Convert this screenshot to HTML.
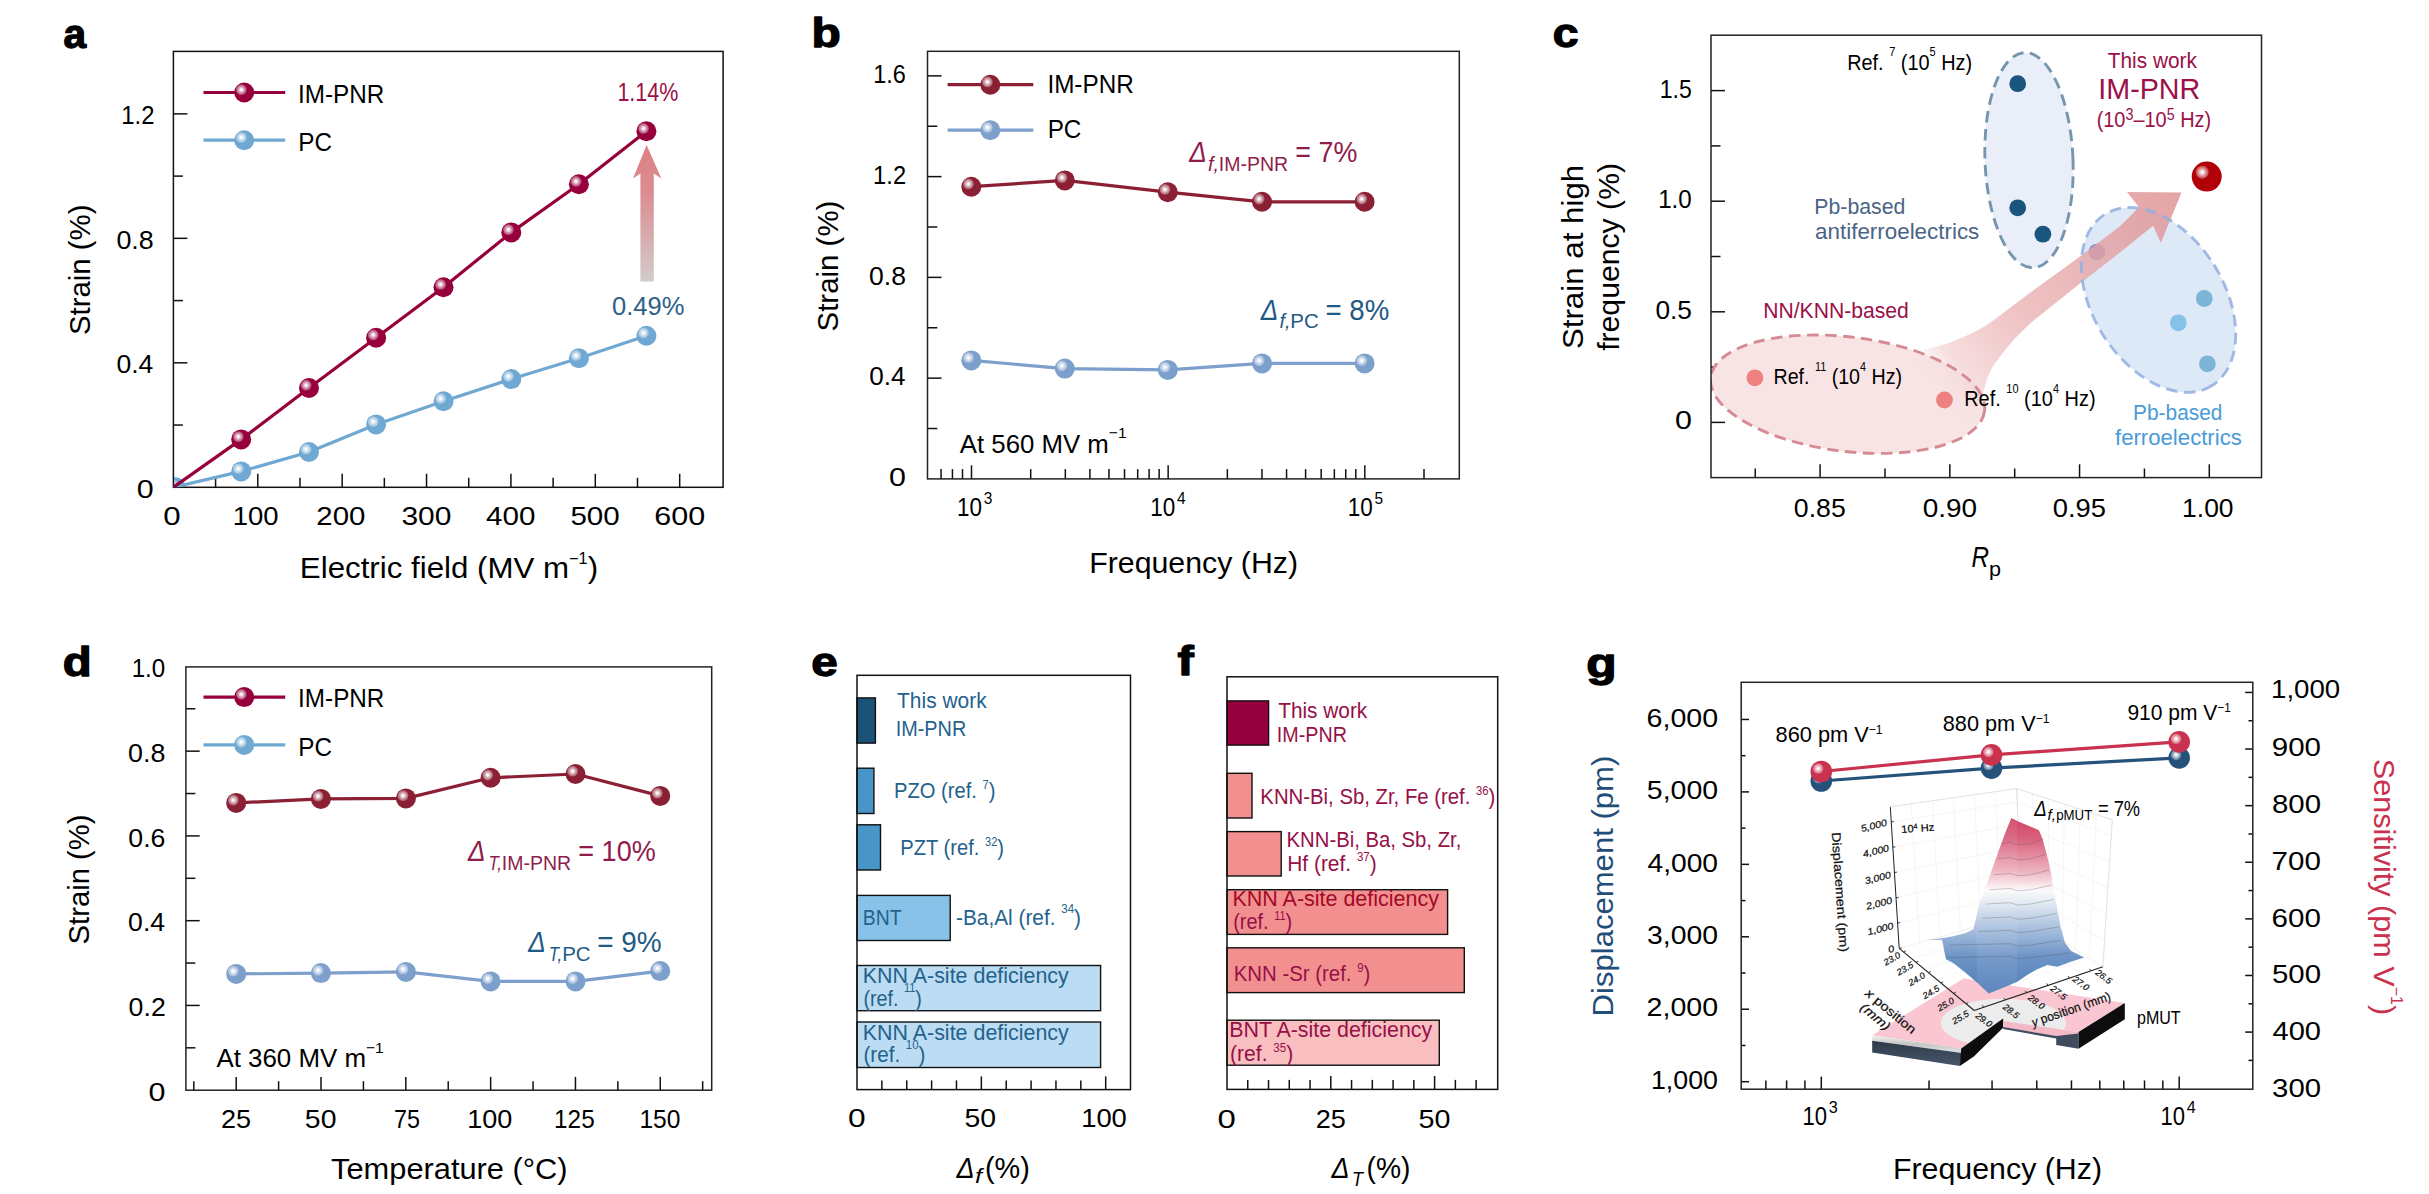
<!DOCTYPE html>
<html><head><meta charset="utf-8"><title>Figure</title>
<style>html,body{margin:0;padding:0;background:#fff;overflow:hidden}svg{display:block}text{font-family:'Liberation Sans', 'DejaVu Sans', sans-serif}</style></head>
<body>
<svg width="2429" height="1194" viewBox="0 0 2429 1194">
<defs>
<radialGradient id="hl"><stop offset="0" stop-color="#fff" stop-opacity="1"/><stop offset="0.18" stop-color="#fff" stop-opacity="0.95"/><stop offset="0.55" stop-color="#fff" stop-opacity="0.6"/><stop offset="1" stop-color="#fff" stop-opacity="0.25"/></radialGradient>
<linearGradient id="arra" x1="0" y1="0" x2="0" y2="1"><stop offset="0" stop-color="#dc8086"/><stop offset="0.35" stop-color="#db8d92"/><stop offset="1" stop-color="#d3cbcb"/></linearGradient>
<linearGradient id="arrc" gradientUnits="userSpaceOnUse" x1="1905" y1="410" x2="2175" y2="195"><stop offset="0.1" stop-color="#f8e4e5" stop-opacity="0"/><stop offset="0.2" stop-color="#f5d8d9" stop-opacity="0.85"/><stop offset="0.45" stop-color="#eab0b2" stop-opacity="0.78"/><stop offset="1" stop-color="#df9496" stop-opacity="0.85"/></linearGradient>
<linearGradient id="gstrip" x1="0" y1="0" x2="0" y2="1"><stop offset="0" stop-color="#f4f4f4"/><stop offset="0.5" stop-color="#c4c4c4"/><stop offset="1" stop-color="#e4e4e4"/></linearGradient>
<linearGradient id="gslate" x1="0" y1="0" x2="0" y2="1"><stop offset="0" stop-color="#2e3a48"/><stop offset="1" stop-color="#46566a"/></linearGradient>
<linearGradient id="gsurf" gradientUnits="userSpaceOnUse" x1="0" y1="818" x2="0" y2="996"><stop offset="0" stop-color="#cf4565"/><stop offset="0.12" stop-color="#d8627e"/><stop offset="0.3" stop-color="#eeb4c0"/><stop offset="0.405" stop-color="#fdfafb"/><stop offset="0.47" stop-color="#e4ebf4"/><stop offset="0.62" stop-color="#a9c0de"/><stop offset="0.78" stop-color="#6d94c6"/><stop offset="1" stop-color="#4f7cb8"/></linearGradient>
</defs>
<g id="pa">
<line x1="215.59" y1="487.3" x2="215.59" y2="477.8" stroke="#111" stroke-width="1.5" />
<line x1="257.78" y1="487.3" x2="257.78" y2="473.8" stroke="#111" stroke-width="1.5" />
<line x1="299.97" y1="487.3" x2="299.97" y2="477.8" stroke="#111" stroke-width="1.5" />
<line x1="342.16" y1="487.3" x2="342.16" y2="473.8" stroke="#111" stroke-width="1.5" />
<line x1="384.35" y1="487.3" x2="384.35" y2="477.8" stroke="#111" stroke-width="1.5" />
<line x1="426.54" y1="487.3" x2="426.54" y2="473.8" stroke="#111" stroke-width="1.5" />
<line x1="468.73" y1="487.3" x2="468.73" y2="477.8" stroke="#111" stroke-width="1.5" />
<line x1="510.92" y1="487.3" x2="510.92" y2="473.8" stroke="#111" stroke-width="1.5" />
<line x1="553.11" y1="487.3" x2="553.11" y2="477.8" stroke="#111" stroke-width="1.5" />
<line x1="595.3" y1="487.3" x2="595.3" y2="473.8" stroke="#111" stroke-width="1.5" />
<line x1="637.49" y1="487.3" x2="637.49" y2="477.8" stroke="#111" stroke-width="1.5" />
<line x1="679.68" y1="487.3" x2="679.68" y2="473.8" stroke="#111" stroke-width="1.5" />
<line x1="173.4" y1="425.06" x2="182.9" y2="425.06" stroke="#111" stroke-width="1.5" />
<line x1="173.4" y1="362.82" x2="187.4" y2="362.82" stroke="#111" stroke-width="1.5" />
<line x1="173.4" y1="300.58" x2="182.9" y2="300.58" stroke="#111" stroke-width="1.5" />
<line x1="173.4" y1="238.34" x2="187.4" y2="238.34" stroke="#111" stroke-width="1.5" />
<line x1="173.4" y1="176.1" x2="182.9" y2="176.1" stroke="#111" stroke-width="1.5" />
<line x1="173.4" y1="113.86" x2="187.4" y2="113.86" stroke="#111" stroke-width="1.5" />
<clipPath id="clipa"><rect x="173.4" y="51.4" width="549.7" height="435.9"/></clipPath>
<g clip-path="url(#clipa)">
<circle cx="175.5" cy="487.3" r="10" fill="#6fa8d2"/>
<circle cx="172.6" cy="484.5" r="5.4" fill="url(#hl)"/>
</g>
<rect x="173.4" y="51.4" width="549.7" height="435.9" fill="none" stroke="#111" stroke-width="1.5" />
<g clip-path="url(#clipa)">
<polyline points="173.4,487.3 241.2,471.4" fill="none" stroke="#6fa8d2" stroke-width="3.2" stroke-linejoin="round" />
<polyline points="173.4,487.3 241.2,439.4" fill="none" stroke="#96003c" stroke-width="3.2" stroke-linejoin="round" />
</g>
<polyline points="241.2,471.4 309,452 376.1,424.4 443.5,401.3 511.3,379.1 578.9,358.3 646.4,335.7" fill="none" stroke="#6fa8d2" stroke-width="3.2" stroke-linejoin="round" />
<circle cx="241.2" cy="471.4" r="10" fill="#6fa8d2"/>
<circle cx="238.3" cy="468.6" r="5.4" fill="url(#hl)"/>
<circle cx="309" cy="452" r="10" fill="#6fa8d2"/>
<circle cx="306.1" cy="449.2" r="5.4" fill="url(#hl)"/>
<circle cx="376.1" cy="424.4" r="10" fill="#6fa8d2"/>
<circle cx="373.2" cy="421.6" r="5.4" fill="url(#hl)"/>
<circle cx="443.5" cy="401.3" r="10" fill="#6fa8d2"/>
<circle cx="440.6" cy="398.5" r="5.4" fill="url(#hl)"/>
<circle cx="511.3" cy="379.1" r="10" fill="#6fa8d2"/>
<circle cx="508.4" cy="376.3" r="5.4" fill="url(#hl)"/>
<circle cx="578.9" cy="358.3" r="10" fill="#6fa8d2"/>
<circle cx="576" cy="355.5" r="5.4" fill="url(#hl)"/>
<circle cx="646.4" cy="335.7" r="10" fill="#6fa8d2"/>
<circle cx="643.5" cy="332.9" r="5.4" fill="url(#hl)"/>
<polyline points="241.2,439.4 309,388 376.1,337.7 443.5,287.2 511.3,232.4 578.9,184.2 646.4,131.3" fill="none" stroke="#96003c" stroke-width="3.2" stroke-linejoin="round" />
<circle cx="241.2" cy="439.4" r="10" fill="#96003c"/>
<circle cx="238.3" cy="436.6" r="5.4" fill="url(#hl)"/>
<circle cx="309" cy="388" r="10" fill="#96003c"/>
<circle cx="306.1" cy="385.2" r="5.4" fill="url(#hl)"/>
<circle cx="376.1" cy="337.7" r="10" fill="#96003c"/>
<circle cx="373.2" cy="334.9" r="5.4" fill="url(#hl)"/>
<circle cx="443.5" cy="287.2" r="10" fill="#96003c"/>
<circle cx="440.6" cy="284.4" r="5.4" fill="url(#hl)"/>
<circle cx="511.3" cy="232.4" r="10" fill="#96003c"/>
<circle cx="508.4" cy="229.6" r="5.4" fill="url(#hl)"/>
<circle cx="578.9" cy="184.2" r="10" fill="#96003c"/>
<circle cx="576" cy="181.4" r="5.4" fill="url(#hl)"/>
<circle cx="646.4" cy="131.3" r="10" fill="#96003c"/>
<circle cx="643.5" cy="128.5" r="5.4" fill="url(#hl)"/>
<polygon points="646.6,145 661.4,178.4 653.8,173.5 653.8,281.5 640.4,281.5 640.4,173.5 633,178.4" fill="url(#arra)" />
<line x1="203.5" y1="92.5" x2="285.2" y2="92.5" stroke="#96003c" stroke-width="3.2" />
<circle cx="244.2" cy="92.5" r="10" fill="#96003c"/>
<circle cx="241.3" cy="89.7" r="5.4" fill="url(#hl)"/>
<text x="298.02" y="102.6" font-size="25.32" textLength="86.28" lengthAdjust="spacingAndGlyphs">IM-PNR</text>
<line x1="203.5" y1="140.2" x2="285.2" y2="140.2" stroke="#6fa8d2" stroke-width="3.2" />
<circle cx="244.2" cy="140.2" r="10" fill="#6fa8d2"/>
<circle cx="241.3" cy="137.4" r="5.4" fill="url(#hl)"/>
<text x="298.26" y="150.6" font-size="25.32" textLength="33.69" lengthAdjust="spacingAndGlyphs">PC</text>
<text x="617.39" y="101" font-size="25.32" fill="#9b1148" textLength="60.87" lengthAdjust="spacingAndGlyphs">1.14%</text>
<text x="611.98" y="315" font-size="25.32" fill="#2c6089" textLength="72.43" lengthAdjust="spacingAndGlyphs">0.49%</text>
<text x="163.35" y="524.8" font-size="25.32" textLength="17.38" lengthAdjust="spacingAndGlyphs">0</text>
<text x="232.84" y="524.8" font-size="25.32" textLength="45.82" lengthAdjust="spacingAndGlyphs">100</text>
<text x="316.33" y="524.8" font-size="25.32" textLength="49.11" lengthAdjust="spacingAndGlyphs">200</text>
<text x="401.45" y="524.8" font-size="25.32" textLength="50" lengthAdjust="spacingAndGlyphs">300</text>
<text x="486.11" y="524.8" font-size="25.32" textLength="49.43" lengthAdjust="spacingAndGlyphs">400</text>
<text x="570.42" y="524.8" font-size="25.32" textLength="49.32" lengthAdjust="spacingAndGlyphs">500</text>
<text x="654.27" y="524.8" font-size="25.32" textLength="50.9" lengthAdjust="spacingAndGlyphs">600</text>
<text x="136.88" y="497.5" font-size="25.32" textLength="16.92" lengthAdjust="spacingAndGlyphs">0</text>
<text x="116.44" y="373.02" font-size="25.32" textLength="36.93" lengthAdjust="spacingAndGlyphs">0.4</text>
<text x="116.43" y="248.54" font-size="25.32" textLength="37.35" lengthAdjust="spacingAndGlyphs">0.8</text>
<text x="121.31" y="124.06" font-size="25.32" textLength="33.19" lengthAdjust="spacingAndGlyphs">1.2</text>
<text x="299.85" y="577.9" font-size="30.07" textLength="298.21" lengthAdjust="spacingAndGlyphs"><tspan dy="0">Electric field (MV m</tspan><tspan dy="-14.13" font-size="15.64">−1</tspan><tspan dy="14.13">)</tspan></text>
<text x="89.8" y="335.12" font-size="30.07" textLength="130.65" lengthAdjust="spacingAndGlyphs" transform="rotate(-90 89.8 335.12)">Strain (%)</text>
<text x="63.43" y="47.5" font-size="40.5" textLength="22.56" lengthAdjust="spacingAndGlyphs" font-weight="bold" stroke="#000" stroke-width="1.3" stroke-linejoin="round">a</text>
</g>
<g id="pb">
<line x1="941.04" y1="478.9" x2="941.04" y2="469.1" stroke="#111" stroke-width="1.5" />
<line x1="952.44" y1="478.9" x2="952.44" y2="469.1" stroke="#111" stroke-width="1.5" />
<line x1="962.5" y1="478.9" x2="962.5" y2="469.1" stroke="#111" stroke-width="1.5" />
<line x1="971.5" y1="478.9" x2="971.5" y2="465.3" stroke="#111" stroke-width="1.5" />
<line x1="1030.7" y1="478.9" x2="1030.7" y2="469.1" stroke="#111" stroke-width="1.5" />
<line x1="1065.33" y1="478.9" x2="1065.33" y2="469.1" stroke="#111" stroke-width="1.5" />
<line x1="1089.9" y1="478.9" x2="1089.9" y2="469.1" stroke="#111" stroke-width="1.5" />
<line x1="1108.95" y1="478.9" x2="1108.95" y2="469.1" stroke="#111" stroke-width="1.5" />
<line x1="1124.52" y1="478.9" x2="1124.52" y2="469.1" stroke="#111" stroke-width="1.5" />
<line x1="1137.69" y1="478.9" x2="1137.69" y2="469.1" stroke="#111" stroke-width="1.5" />
<line x1="1149.09" y1="478.9" x2="1149.09" y2="469.1" stroke="#111" stroke-width="1.5" />
<line x1="1159.15" y1="478.9" x2="1159.15" y2="469.1" stroke="#111" stroke-width="1.5" />
<line x1="1168.15" y1="478.9" x2="1168.15" y2="465.3" stroke="#111" stroke-width="1.5" />
<line x1="1227.35" y1="478.9" x2="1227.35" y2="469.1" stroke="#111" stroke-width="1.5" />
<line x1="1261.98" y1="478.9" x2="1261.98" y2="469.1" stroke="#111" stroke-width="1.5" />
<line x1="1286.55" y1="478.9" x2="1286.55" y2="469.1" stroke="#111" stroke-width="1.5" />
<line x1="1305.6" y1="478.9" x2="1305.6" y2="469.1" stroke="#111" stroke-width="1.5" />
<line x1="1321.17" y1="478.9" x2="1321.17" y2="469.1" stroke="#111" stroke-width="1.5" />
<line x1="1334.34" y1="478.9" x2="1334.34" y2="469.1" stroke="#111" stroke-width="1.5" />
<line x1="1345.74" y1="478.9" x2="1345.74" y2="469.1" stroke="#111" stroke-width="1.5" />
<line x1="1355.8" y1="478.9" x2="1355.8" y2="469.1" stroke="#111" stroke-width="1.5" />
<line x1="1364.8" y1="478.9" x2="1364.8" y2="465.3" stroke="#111" stroke-width="1.5" />
<line x1="1424" y1="478.9" x2="1424" y2="469.1" stroke="#111" stroke-width="1.5" />
<line x1="927.5" y1="428.52" x2="937.3" y2="428.52" stroke="#111" stroke-width="1.5" />
<line x1="927.5" y1="378.14" x2="941.5" y2="378.14" stroke="#111" stroke-width="1.5" />
<line x1="927.5" y1="327.76" x2="937.3" y2="327.76" stroke="#111" stroke-width="1.5" />
<line x1="927.5" y1="277.38" x2="941.5" y2="277.38" stroke="#111" stroke-width="1.5" />
<line x1="927.5" y1="227" x2="937.3" y2="227" stroke="#111" stroke-width="1.5" />
<line x1="927.5" y1="176.62" x2="941.5" y2="176.62" stroke="#111" stroke-width="1.5" />
<line x1="927.5" y1="126.24" x2="937.3" y2="126.24" stroke="#111" stroke-width="1.5" />
<line x1="927.5" y1="75.86" x2="941.5" y2="75.86" stroke="#111" stroke-width="1.5" />
<rect x="927.5" y="51.3" width="531.8" height="427.6" fill="none" stroke="#222" stroke-width="1.5" />
<polyline points="971.3,360.4 1064.8,368.6 1167.8,369.9 1262,363.4 1364.6,363.4" fill="none" stroke="#7d9fcc" stroke-width="3.2" stroke-linejoin="round" />
<circle cx="971.3" cy="360.4" r="10" fill="#7d9fcc"/>
<circle cx="968.4" cy="357.6" r="5.4" fill="url(#hl)"/>
<circle cx="1064.8" cy="368.6" r="10" fill="#7d9fcc"/>
<circle cx="1061.9" cy="365.8" r="5.4" fill="url(#hl)"/>
<circle cx="1167.8" cy="369.9" r="10" fill="#7d9fcc"/>
<circle cx="1164.9" cy="367.1" r="5.4" fill="url(#hl)"/>
<circle cx="1262" cy="363.4" r="10" fill="#7d9fcc"/>
<circle cx="1259.1" cy="360.6" r="5.4" fill="url(#hl)"/>
<circle cx="1364.6" cy="363.4" r="10" fill="#7d9fcc"/>
<circle cx="1361.7" cy="360.6" r="5.4" fill="url(#hl)"/>
<polyline points="971.3,186.7 1064.8,180.4 1167.8,192.2 1262,201.8 1364.6,201.8" fill="none" stroke="#8b2035" stroke-width="3.2" stroke-linejoin="round" />
<circle cx="971.3" cy="186.7" r="10" fill="#8b2035"/>
<circle cx="968.4" cy="183.9" r="5.4" fill="url(#hl)"/>
<circle cx="1064.8" cy="180.4" r="10" fill="#8b2035"/>
<circle cx="1061.9" cy="177.6" r="5.4" fill="url(#hl)"/>
<circle cx="1167.8" cy="192.2" r="10" fill="#8b2035"/>
<circle cx="1164.9" cy="189.4" r="5.4" fill="url(#hl)"/>
<circle cx="1262" cy="201.8" r="10" fill="#8b2035"/>
<circle cx="1259.1" cy="199" r="5.4" fill="url(#hl)"/>
<circle cx="1364.6" cy="201.8" r="10" fill="#8b2035"/>
<circle cx="1361.7" cy="199" r="5.4" fill="url(#hl)"/>
<line x1="947.6" y1="84.7" x2="1033.3" y2="84.7" stroke="#8b2035" stroke-width="3.2" />
<circle cx="990.3" cy="84.7" r="10" fill="#8b2035"/>
<circle cx="987.4" cy="81.9" r="5.4" fill="url(#hl)"/>
<text x="1047.42" y="93.2" font-size="25.32" textLength="86.28" lengthAdjust="spacingAndGlyphs">IM-PNR</text>
<line x1="947.6" y1="130.2" x2="1033.3" y2="130.2" stroke="#7d9fcc" stroke-width="3.2" />
<circle cx="990.3" cy="130.2" r="10" fill="#7d9fcc"/>
<circle cx="987.4" cy="127.4" r="5.4" fill="url(#hl)"/>
<text x="1047.66" y="138.4" font-size="25.32" textLength="33.69" lengthAdjust="spacingAndGlyphs">PC</text>
<text x="1189.2" y="162" font-size="29.54" fill="#8f1c4c" textLength="17.5" lengthAdjust="spacingAndGlyphs" font-style="italic">Δ</text>
<text x="1208" y="171.4" font-size="20.04" fill="#8f1c4c" textLength="11" lengthAdjust="spacingAndGlyphs" font-style="italic">f,</text>
<text x="1218.74" y="171.4" font-size="20.04" fill="#8f1c4c" textLength="69.34" lengthAdjust="spacingAndGlyphs">IM-PNR</text>
<text x="1295.36" y="162" font-size="29.54" fill="#8f1c4c" textLength="62.01" lengthAdjust="spacingAndGlyphs">= 7%</text>
<text x="1260.8" y="319.6" font-size="29.54" fill="#1f5a85" textLength="17.5" lengthAdjust="spacingAndGlyphs" font-style="italic">Δ</text>
<text x="1279.6" y="328.2" font-size="20.04" fill="#1f5a85" textLength="11" lengthAdjust="spacingAndGlyphs" font-style="italic">f,</text>
<text x="1290.36" y="328.2" font-size="20.04" fill="#1f5a85" textLength="28.44" lengthAdjust="spacingAndGlyphs">PC</text>
<text x="1325.52" y="319.6" font-size="29.54" fill="#1f5a85" textLength="63.77" lengthAdjust="spacingAndGlyphs">= 8%</text>
<text x="959.76" y="452.8" font-size="25.32" textLength="166.78" lengthAdjust="spacingAndGlyphs"><tspan dy="0">At 560 MV m</tspan><tspan dy="-14.43" font-size="15.19">−1</tspan></text>
<text x="957" y="515.6" font-size="25.32" textLength="25" lengthAdjust="spacingAndGlyphs">10</text>
<text x="983.8" y="503.8" font-size="16.35" textLength="8.6" lengthAdjust="spacingAndGlyphs">3</text>
<text x="1150.25" y="515.6" font-size="25.32" textLength="25" lengthAdjust="spacingAndGlyphs">10</text>
<text x="1177.05" y="503.8" font-size="16.35" textLength="8.6" lengthAdjust="spacingAndGlyphs">4</text>
<text x="1347.7" y="515.6" font-size="25.32" textLength="25" lengthAdjust="spacingAndGlyphs">10</text>
<text x="1374.5" y="503.8" font-size="16.35" textLength="8.6" lengthAdjust="spacingAndGlyphs">5</text>
<text x="889.08" y="486.1" font-size="25.32" textLength="16.92" lengthAdjust="spacingAndGlyphs">0</text>
<text x="869.26" y="385.34" font-size="25.32" textLength="36.3" lengthAdjust="spacingAndGlyphs">0.4</text>
<text x="869.04" y="284.58" font-size="25.32" textLength="36.93" lengthAdjust="spacingAndGlyphs">0.8</text>
<text x="873.12" y="183.82" font-size="25.32" textLength="32.97" lengthAdjust="spacingAndGlyphs">1.2</text>
<text x="873.24" y="83.06" font-size="25.32" textLength="32.6" lengthAdjust="spacingAndGlyphs">1.6</text>
<text x="1089.18" y="572.7" font-size="30.07" textLength="208.87" lengthAdjust="spacingAndGlyphs">Frequency (Hz)</text>
<text x="838.5" y="331.42" font-size="30.07" textLength="130.75" lengthAdjust="spacingAndGlyphs" transform="rotate(-90 838.5 331.42)">Strain (%)</text>
<text x="811.54" y="46.5" font-size="40.5" textLength="29.27" lengthAdjust="spacingAndGlyphs" font-weight="bold" stroke="#000" stroke-width="1.3" stroke-linejoin="round">b</text>
</g>
<g id="pc">
<line x1="1755.23" y1="477.6" x2="1755.23" y2="468.5" stroke="#111" stroke-width="1.5" />
<line x1="1820.1" y1="477.6" x2="1820.1" y2="464.3" stroke="#111" stroke-width="1.5" />
<line x1="1884.97" y1="477.6" x2="1884.97" y2="468.5" stroke="#111" stroke-width="1.5" />
<line x1="1949.84" y1="477.6" x2="1949.84" y2="464.3" stroke="#111" stroke-width="1.5" />
<line x1="2014.7" y1="477.6" x2="2014.7" y2="468.5" stroke="#111" stroke-width="1.5" />
<line x1="2079.57" y1="477.6" x2="2079.57" y2="464.3" stroke="#111" stroke-width="1.5" />
<line x1="2144.44" y1="477.6" x2="2144.44" y2="468.5" stroke="#111" stroke-width="1.5" />
<line x1="2209.3" y1="477.6" x2="2209.3" y2="464.3" stroke="#111" stroke-width="1.5" />
<line x1="1711" y1="422.4" x2="1725" y2="422.4" stroke="#111" stroke-width="1.5" />
<line x1="1711" y1="367.1" x2="1720.5" y2="367.1" stroke="#111" stroke-width="1.5" />
<line x1="1711" y1="311.8" x2="1725" y2="311.8" stroke="#111" stroke-width="1.5" />
<line x1="1711" y1="256.5" x2="1720.5" y2="256.5" stroke="#111" stroke-width="1.5" />
<line x1="1711" y1="201.2" x2="1725" y2="201.2" stroke="#111" stroke-width="1.5" />
<line x1="1711" y1="145.9" x2="1720.5" y2="145.9" stroke="#111" stroke-width="1.5" />
<line x1="1711" y1="90.6" x2="1725" y2="90.6" stroke="#111" stroke-width="1.5" />
<ellipse cx="2029" cy="160.2" rx="44" ry="107.6" fill="#e9eef8" transform="rotate(-2.35 2029 160)"/>
<ellipse cx="2158.5" cy="299.9" rx="101" ry="65.6" fill="#dde9f7" transform="rotate(58 2158.5 299.9)"/>
<clipPath id="clipc"><rect x="1711" y="35.2" width="550.5" height="442.4"/></clipPath>
<g clip-path="url(#clipc)">
<ellipse cx="1847.6" cy="394.2" rx="138" ry="57.2" fill="#f8e4e5" transform="rotate(7 1847.6 394.2)"/>
</g>
<circle cx="2017.7" cy="83.7" r="8.4" fill="#1a557e"/>
<circle cx="2017.7" cy="207.8" r="8.4" fill="#1a557e"/>
<circle cx="2042.9" cy="234.2" r="8.4" fill="#1a557e"/>
<circle cx="2096.8" cy="252.1" r="8.4" fill="#7f92c8"/>
<circle cx="2204.3" cy="298.5" r="8.4" fill="#7db5d6"/>
<circle cx="2178.3" cy="322.8" r="8.4" fill="#85c1e9"/>
<circle cx="2207.4" cy="363.8" r="8.4" fill="#7db5d6"/>
<path d="M1900,372 C1908,362 1915,354 1924.6,349.4 C1945,345 1968,337 1988.8,323.7 L2032.4,291 L2075.9,259.5 L2119.4,226.8 L2139,207.2 L2127,192 L2181.5,192.6 L2160.8,243.1 L2153.2,225.7 L2119.4,252.9 L2075.9,286.7 L2032.4,321.5 C2018,334 2003,351 1991,369.4 C1987,378 1984,388 1982.3,397.7 C1978,412 1965,428 1950,434 C1930,412 1910,392 1900,372 Z" fill="url(#arrc)"/>
<ellipse cx="2029" cy="160.2" rx="44" ry="107.6" fill="none" stroke="#7596ae" stroke-width="2.9" stroke-dasharray="11.5 6.5" transform="rotate(-2.35 2029 160)"/>
<ellipse cx="2158.5" cy="299.9" rx="101" ry="65.6" fill="none" stroke="#92afe0" stroke-opacity="0.85" stroke-width="2.9" stroke-dasharray="11.5 6.5" transform="rotate(58 2158.5 299.9)"/>
<g clip-path="url(#clipc)">
<ellipse cx="1847.6" cy="394.2" rx="138" ry="57.2" fill="none" stroke="#d58b94" stroke-width="2.9" stroke-dasharray="11.5 6.5" transform="rotate(7 1847.6 394.2)"/>
</g>
<circle cx="1754.9" cy="377.8" r="8.4" fill="#ee8080"/>
<circle cx="1944.5" cy="400" r="8.4" fill="#ee8080"/>
<rect x="1711" y="35.2" width="550.5" height="442.4" fill="none" stroke="#222" stroke-width="1.5" />
<circle cx="2206.7" cy="176.6" r="15" fill="#b20009"/>
<circle cx="2202.2" cy="172.2" r="6.5" fill="url(#hl)"/>
<text x="1847.13" y="69.8" font-size="21.63" textLength="124.95" lengthAdjust="spacingAndGlyphs"><tspan dy="0">Ref. </tspan><tspan dy="-14.27" font-size="11.9">7</tspan><tspan dy="14.27"> (10</tspan><tspan dy="-14.27" font-size="11.9">5</tspan><tspan dy="14.27"> Hz)</tspan></text>
<text x="2107.78" y="67.8" font-size="21.63" fill="#9b1048" textLength="89.18" lengthAdjust="spacingAndGlyphs">This work</text>
<text x="2098.32" y="98.7" font-size="30.07" fill="#9b1048" textLength="101.98" lengthAdjust="spacingAndGlyphs">IM-PNR</text>
<text x="2096.63" y="126.9" font-size="21.63" fill="#9b1048" textLength="114.55" lengthAdjust="spacingAndGlyphs"><tspan dy="0">(10</tspan><tspan dy="-6.7" font-size="15.57">3</tspan><tspan dy="6.7">–10</tspan><tspan dy="-6.7" font-size="15.57">5</tspan><tspan dy="6.7"> Hz)</tspan></text>
<text x="1814.3" y="214.4" font-size="21.63" fill="#4a6486" textLength="91" lengthAdjust="spacingAndGlyphs">Pb-based</text>
<text x="1815.1" y="238.6" font-size="21.63" fill="#4a6486" textLength="164.2" lengthAdjust="spacingAndGlyphs">antiferroelectrics</text>
<text x="1763.21" y="317.9" font-size="21.63" fill="#9b1048" textLength="145.59" lengthAdjust="spacingAndGlyphs">NN/KNN-based</text>
<text x="1773.53" y="384.2" font-size="21.63" textLength="128.55" lengthAdjust="spacingAndGlyphs"><tspan dy="0">Ref. </tspan><tspan dy="-12.98" font-size="11.9">11</tspan><tspan dy="12.98"> (10</tspan><tspan dy="-12.98" font-size="11.9">4</tspan><tspan dy="12.98"> Hz)</tspan></text>
<text x="1964.23" y="405.5" font-size="21.63" textLength="131.35" lengthAdjust="spacingAndGlyphs"><tspan dy="0">Ref. </tspan><tspan dy="-12.98" font-size="11.9">10</tspan><tspan dy="12.98"> (10</tspan><tspan dy="-12.98" font-size="11.9">4</tspan><tspan dy="12.98"> Hz)</tspan></text>
<text x="2133.03" y="420.1" font-size="21.63" fill="#4a9bd8" textLength="89.44" lengthAdjust="spacingAndGlyphs">Pb-based</text>
<text x="2114.97" y="444.5" font-size="21.63" fill="#4a9bd8" textLength="126.88" lengthAdjust="spacingAndGlyphs">ferroelectrics</text>
<text x="1793.83" y="516.6" font-size="25.32" textLength="51.87" lengthAdjust="spacingAndGlyphs">0.85</text>
<text x="1922.68" y="516.6" font-size="25.32" textLength="54.43" lengthAdjust="spacingAndGlyphs">0.90</text>
<text x="2052.81" y="516.6" font-size="25.32" textLength="53.22" lengthAdjust="spacingAndGlyphs">0.95</text>
<text x="2182.12" y="516.6" font-size="25.32" textLength="51.44" lengthAdjust="spacingAndGlyphs">1.00</text>
<text x="1675.08" y="429.3" font-size="25.32" textLength="16.92" lengthAdjust="spacingAndGlyphs">0</text>
<text x="1655.45" y="318.7" font-size="25.32" textLength="36.5" lengthAdjust="spacingAndGlyphs">0.5</text>
<text x="1658.19" y="208.1" font-size="25.32" textLength="33.56" lengthAdjust="spacingAndGlyphs">1.0</text>
<text x="1659.77" y="97.5" font-size="25.32" textLength="32.06" lengthAdjust="spacingAndGlyphs">1.5</text>
<text x="1582.7" y="349.11" font-size="30.07" textLength="184.37" lengthAdjust="spacingAndGlyphs" transform="rotate(-90 1582.7 349.11)">Strain at high</text>
<text x="1618.6" y="350.85" font-size="30.07" textLength="187.91" lengthAdjust="spacingAndGlyphs" transform="rotate(-90 1618.6 350.85)">frequency (%)</text>
<text x="1971.5" y="567.2" font-size="30.07" textLength="17.5" lengthAdjust="spacingAndGlyphs" font-style="italic">R</text>
<text x="1989" y="576" font-size="21.1" textLength="12" lengthAdjust="spacingAndGlyphs">p</text>
<text x="1552.79" y="47" font-size="40.5" textLength="25.8" lengthAdjust="spacingAndGlyphs" font-weight="bold" stroke="#000" stroke-width="1.3" stroke-linejoin="round">c</text>
</g>
<g id="pd">
<line x1="193.79" y1="1090.2" x2="193.79" y2="1081.2" stroke="#111" stroke-width="1.5" />
<line x1="236.2" y1="1090.2" x2="236.2" y2="1076.9" stroke="#111" stroke-width="1.5" />
<line x1="278.61" y1="1090.2" x2="278.61" y2="1081.2" stroke="#111" stroke-width="1.5" />
<line x1="321.01" y1="1090.2" x2="321.01" y2="1076.9" stroke="#111" stroke-width="1.5" />
<line x1="363.42" y1="1090.2" x2="363.42" y2="1081.2" stroke="#111" stroke-width="1.5" />
<line x1="405.82" y1="1090.2" x2="405.82" y2="1076.9" stroke="#111" stroke-width="1.5" />
<line x1="448.23" y1="1090.2" x2="448.23" y2="1081.2" stroke="#111" stroke-width="1.5" />
<line x1="490.64" y1="1090.2" x2="490.64" y2="1076.9" stroke="#111" stroke-width="1.5" />
<line x1="533.04" y1="1090.2" x2="533.04" y2="1081.2" stroke="#111" stroke-width="1.5" />
<line x1="575.45" y1="1090.2" x2="575.45" y2="1076.9" stroke="#111" stroke-width="1.5" />
<line x1="617.86" y1="1090.2" x2="617.86" y2="1081.2" stroke="#111" stroke-width="1.5" />
<line x1="660.26" y1="1090.2" x2="660.26" y2="1076.9" stroke="#111" stroke-width="1.5" />
<line x1="702.67" y1="1090.2" x2="702.67" y2="1081.2" stroke="#111" stroke-width="1.5" />
<line x1="185.9" y1="1047.82" x2="195.4" y2="1047.82" stroke="#111" stroke-width="1.5" />
<line x1="185.9" y1="1005.44" x2="199.7" y2="1005.44" stroke="#111" stroke-width="1.5" />
<line x1="185.9" y1="963.06" x2="195.4" y2="963.06" stroke="#111" stroke-width="1.5" />
<line x1="185.9" y1="920.68" x2="199.7" y2="920.68" stroke="#111" stroke-width="1.5" />
<line x1="185.9" y1="878.3" x2="195.4" y2="878.3" stroke="#111" stroke-width="1.5" />
<line x1="185.9" y1="835.92" x2="199.7" y2="835.92" stroke="#111" stroke-width="1.5" />
<line x1="185.9" y1="793.54" x2="195.4" y2="793.54" stroke="#111" stroke-width="1.5" />
<line x1="185.9" y1="751.16" x2="199.7" y2="751.16" stroke="#111" stroke-width="1.5" />
<line x1="185.9" y1="708.78" x2="195.4" y2="708.78" stroke="#111" stroke-width="1.5" />
<rect x="185.9" y="666.9" width="525.8" height="423.3" fill="none" stroke="#222" stroke-width="1.5" />
<polyline points="236.2,973.9 320.9,973.1 405.9,971.9 490.6,981.4 575.5,981.4 660.2,971.1" fill="none" stroke="#7d9fcc" stroke-width="3.2" stroke-linejoin="round" />
<circle cx="236.2" cy="973.9" r="10" fill="#7d9fcc"/>
<circle cx="233.3" cy="971.1" r="5.4" fill="url(#hl)"/>
<circle cx="320.9" cy="973.1" r="10" fill="#7d9fcc"/>
<circle cx="318" cy="970.3" r="5.4" fill="url(#hl)"/>
<circle cx="405.9" cy="971.9" r="10" fill="#7d9fcc"/>
<circle cx="403" cy="969.1" r="5.4" fill="url(#hl)"/>
<circle cx="490.6" cy="981.4" r="10" fill="#7d9fcc"/>
<circle cx="487.7" cy="978.6" r="5.4" fill="url(#hl)"/>
<circle cx="575.5" cy="981.4" r="10" fill="#7d9fcc"/>
<circle cx="572.6" cy="978.6" r="5.4" fill="url(#hl)"/>
<circle cx="660.2" cy="971.1" r="10" fill="#7d9fcc"/>
<circle cx="657.3" cy="968.3" r="5.4" fill="url(#hl)"/>
<polyline points="236.2,802.9 320.9,798.9 405.9,798.4 490.6,777.8 575.5,774 660.2,795.9" fill="none" stroke="#8b2035" stroke-width="3.2" stroke-linejoin="round" />
<circle cx="236.2" cy="802.9" r="10" fill="#8b2035"/>
<circle cx="233.3" cy="800.1" r="5.4" fill="url(#hl)"/>
<circle cx="320.9" cy="798.9" r="10" fill="#8b2035"/>
<circle cx="318" cy="796.1" r="5.4" fill="url(#hl)"/>
<circle cx="405.9" cy="798.4" r="10" fill="#8b2035"/>
<circle cx="403" cy="795.6" r="5.4" fill="url(#hl)"/>
<circle cx="490.6" cy="777.8" r="10" fill="#8b2035"/>
<circle cx="487.7" cy="775" r="5.4" fill="url(#hl)"/>
<circle cx="575.5" cy="774" r="10" fill="#8b2035"/>
<circle cx="572.6" cy="771.2" r="5.4" fill="url(#hl)"/>
<circle cx="660.2" cy="795.9" r="10" fill="#8b2035"/>
<circle cx="657.3" cy="793.1" r="5.4" fill="url(#hl)"/>
<line x1="203.5" y1="697.1" x2="285.2" y2="697.1" stroke="#96003c" stroke-width="3.2" />
<circle cx="244.2" cy="697.1" r="10" fill="#96003c"/>
<circle cx="241.3" cy="694.3" r="5.4" fill="url(#hl)"/>
<text x="298.12" y="707.3" font-size="25.32" textLength="86.28" lengthAdjust="spacingAndGlyphs">IM-PNR</text>
<line x1="203.5" y1="744.9" x2="285.2" y2="744.9" stroke="#6fa8d2" stroke-width="3.2" />
<circle cx="244.2" cy="744.9" r="10" fill="#6fa8d2"/>
<circle cx="241.3" cy="742.1" r="5.4" fill="url(#hl)"/>
<text x="298.36" y="755.8" font-size="25.32" textLength="33.69" lengthAdjust="spacingAndGlyphs">PC</text>
<text x="467.9" y="861.2" font-size="29.54" fill="#8f1c4c" textLength="17.5" lengthAdjust="spacingAndGlyphs" font-style="italic">Δ</text>
<text x="488.5" y="870" font-size="20.04" fill="#8f1c4c" textLength="13.5" lengthAdjust="spacingAndGlyphs" font-style="italic">T,</text>
<text x="501.74" y="870" font-size="20.04" fill="#8f1c4c" textLength="69.34" lengthAdjust="spacingAndGlyphs">IM-PNR</text>
<text x="578.35" y="861.2" font-size="29.54" fill="#8f1c4c" textLength="77.35" lengthAdjust="spacingAndGlyphs">= 10%</text>
<text x="528.2" y="952.3" font-size="29.54" fill="#1f5a85" textLength="17.5" lengthAdjust="spacingAndGlyphs" font-style="italic">Δ</text>
<text x="548.8" y="960.6" font-size="20.04" fill="#1f5a85" textLength="13.5" lengthAdjust="spacingAndGlyphs" font-style="italic">T,</text>
<text x="562.16" y="960.6" font-size="20.04" fill="#1f5a85" textLength="28.44" lengthAdjust="spacingAndGlyphs">PC</text>
<text x="597.2" y="952.3" font-size="29.54" fill="#1f5a85" textLength="64.5" lengthAdjust="spacingAndGlyphs">= 9%</text>
<text x="216.46" y="1067.4" font-size="25.32" textLength="167.28" lengthAdjust="spacingAndGlyphs"><tspan dy="0">At 360 MV m</tspan><tspan dy="-14.43" font-size="15.19">−1</tspan></text>
<text x="221.05" y="1127.7" font-size="25.32" textLength="30.1" lengthAdjust="spacingAndGlyphs">25</text>
<text x="304.86" y="1127.7" font-size="25.32" textLength="31.6" lengthAdjust="spacingAndGlyphs">50</text>
<text x="393.93" y="1127.7" font-size="25.32" textLength="25.95" lengthAdjust="spacingAndGlyphs">75</text>
<text x="467.17" y="1127.7" font-size="25.32" textLength="45.07" lengthAdjust="spacingAndGlyphs">100</text>
<text x="554.08" y="1127.7" font-size="25.32" textLength="40.58" lengthAdjust="spacingAndGlyphs">125</text>
<text x="639.46" y="1127.7" font-size="25.32" textLength="40.99" lengthAdjust="spacingAndGlyphs">150</text>
<text x="148.58" y="1100.8" font-size="25.32" textLength="16.92" lengthAdjust="spacingAndGlyphs">0</text>
<text x="128.63" y="1016.04" font-size="25.32" textLength="37.11" lengthAdjust="spacingAndGlyphs">0.2</text>
<text x="128.14" y="931.28" font-size="25.32" textLength="36.93" lengthAdjust="spacingAndGlyphs">0.4</text>
<text x="128.33" y="846.52" font-size="25.32" textLength="37.14" lengthAdjust="spacingAndGlyphs">0.6</text>
<text x="128.13" y="761.76" font-size="25.32" textLength="37.35" lengthAdjust="spacingAndGlyphs">0.8</text>
<text x="131.69" y="677" font-size="25.32" textLength="33.56" lengthAdjust="spacingAndGlyphs">1.0</text>
<text x="331.08" y="1179.2" font-size="30.07" textLength="236.52" lengthAdjust="spacingAndGlyphs">Temperature (°C)</text>
<text x="89.5" y="944.42" font-size="30.07" textLength="129.93" lengthAdjust="spacingAndGlyphs" transform="rotate(-90 89.5 944.42)">Strain (%)</text>
<text x="62.76" y="675.8" font-size="40.5" textLength="28.91" lengthAdjust="spacingAndGlyphs" font-weight="bold" stroke="#000" stroke-width="1.3" stroke-linejoin="round">d</text>
</g>
<g id="pe">
<line x1="881.87" y1="1089.6" x2="881.87" y2="1080.4" stroke="#111" stroke-width="1.5" />
<line x1="906.74" y1="1089.6" x2="906.74" y2="1080.4" stroke="#111" stroke-width="1.5" />
<line x1="931.61" y1="1089.6" x2="931.61" y2="1080.4" stroke="#111" stroke-width="1.5" />
<line x1="956.48" y1="1089.6" x2="956.48" y2="1080.4" stroke="#111" stroke-width="1.5" />
<line x1="981.35" y1="1089.6" x2="981.35" y2="1076.4" stroke="#111" stroke-width="1.5" />
<line x1="1006.22" y1="1089.6" x2="1006.22" y2="1080.4" stroke="#111" stroke-width="1.5" />
<line x1="1031.09" y1="1089.6" x2="1031.09" y2="1080.4" stroke="#111" stroke-width="1.5" />
<line x1="1055.96" y1="1089.6" x2="1055.96" y2="1080.4" stroke="#111" stroke-width="1.5" />
<line x1="1080.83" y1="1089.6" x2="1080.83" y2="1080.4" stroke="#111" stroke-width="1.5" />
<line x1="1105.7" y1="1089.6" x2="1105.7" y2="1076.4" stroke="#111" stroke-width="1.5" />
<rect x="857" y="697.9" width="18.4" height="45.2" fill="#1a5278" stroke="#111" stroke-width="1.4" />
<rect x="857" y="768.2" width="16.9" height="45.3" fill="#4796c7" stroke="#111" stroke-width="1.4" />
<rect x="857" y="824.8" width="23.5" height="45.2" fill="#4796c7" stroke="#111" stroke-width="1.4" />
<rect x="857" y="895.4" width="93.2" height="45.1" fill="#89c2e8" stroke="#111" stroke-width="1.4" />
<rect x="857" y="965.5" width="243.6" height="45.2" fill="#bbdcf3" stroke="#111" stroke-width="1.4" />
<rect x="857" y="1022" width="243.6" height="45.5" fill="#bbdcf3" stroke="#111" stroke-width="1.4" />
<rect x="857" y="675.3" width="273.5" height="414.3" fill="none" stroke="#111" stroke-width="1.5" />
<text x="897.08" y="708.4" font-size="21.63" fill="#24628c" textLength="89.59" lengthAdjust="spacingAndGlyphs">This work</text>
<text x="895.71" y="735.6" font-size="21.63" fill="#24628c" textLength="70.59" lengthAdjust="spacingAndGlyphs">IM-PNR</text>
<text x="894.03" y="797.9" font-size="21.63" fill="#24628c" textLength="101.45" lengthAdjust="spacingAndGlyphs"><tspan dy="0">PZO (ref. </tspan><tspan dy="-9.08" font-size="11.9">7</tspan><tspan dy="9.08">)</tspan></text>
<text x="900.33" y="854.9" font-size="21.63" fill="#24628c" textLength="103.75" lengthAdjust="spacingAndGlyphs"><tspan dy="0">PZT (ref. </tspan><tspan dy="-9.08" font-size="11.9">32</tspan><tspan dy="9.08">)</tspan></text>
<text x="862.85" y="924.7" font-size="21.63" fill="#24628c" textLength="38.74" lengthAdjust="spacingAndGlyphs">BNT</text>
<text x="956.03" y="924.7" font-size="21.63" fill="#24628c" textLength="124.95" lengthAdjust="spacingAndGlyphs"><tspan dy="0">-Ba,Al (ref. </tspan><tspan dy="-11.9" font-size="11.9">34</tspan><tspan dy="11.9">)</tspan></text>
<text x="862.69" y="982.6" font-size="21.63" fill="#24628c" textLength="206.11" lengthAdjust="spacingAndGlyphs">KNN A-site deficiency</text>
<text x="863.43" y="1005.5" font-size="21.63" fill="#24628c" textLength="58.45" lengthAdjust="spacingAndGlyphs"><tspan dy="0">(ref. </tspan><tspan dy="-13.41" font-size="11.9">11</tspan><tspan dy="13.41">)</tspan></text>
<text x="862.69" y="1039.7" font-size="21.63" fill="#24628c" textLength="206.11" lengthAdjust="spacingAndGlyphs">KNN A-site deficiency</text>
<text x="863.43" y="1062.4" font-size="21.63" fill="#24628c" textLength="61.95" lengthAdjust="spacingAndGlyphs"><tspan dy="0">(ref. </tspan><tspan dy="-13.41" font-size="11.9">10</tspan><tspan dy="13.41">)</tspan></text>
<text x="847.93" y="1127.3" font-size="25.32" textLength="17.61" lengthAdjust="spacingAndGlyphs">0</text>
<text x="964.56" y="1127.3" font-size="25.32" textLength="31.6" lengthAdjust="spacingAndGlyphs">50</text>
<text x="1081.15" y="1127.3" font-size="25.32" textLength="45.71" lengthAdjust="spacingAndGlyphs">100</text>
<text x="956.5" y="1178" font-size="30.07" textLength="18" lengthAdjust="spacingAndGlyphs" font-style="italic">Δ</text>
<text x="975" y="1182.6" font-size="21.1" textLength="7" lengthAdjust="spacingAndGlyphs" font-style="italic">f</text>
<text x="984.97" y="1178" font-size="30.07" textLength="44.92" lengthAdjust="spacingAndGlyphs">(%)</text>
<text x="811.34" y="675.8" font-size="40.5" textLength="26.49" lengthAdjust="spacingAndGlyphs" font-weight="bold" stroke="#000" stroke-width="1.3" stroke-linejoin="round">e</text>
</g>
<g id="pf">
<line x1="1247.76" y1="1089.4" x2="1247.76" y2="1079.9" stroke="#111" stroke-width="1.5" />
<line x1="1268.52" y1="1089.4" x2="1268.52" y2="1079.9" stroke="#111" stroke-width="1.5" />
<line x1="1289.28" y1="1089.4" x2="1289.28" y2="1079.9" stroke="#111" stroke-width="1.5" />
<line x1="1310.04" y1="1089.4" x2="1310.04" y2="1079.9" stroke="#111" stroke-width="1.5" />
<line x1="1330.8" y1="1089.4" x2="1330.8" y2="1076" stroke="#111" stroke-width="1.5" />
<line x1="1351.56" y1="1089.4" x2="1351.56" y2="1079.9" stroke="#111" stroke-width="1.5" />
<line x1="1372.32" y1="1089.4" x2="1372.32" y2="1079.9" stroke="#111" stroke-width="1.5" />
<line x1="1393.08" y1="1089.4" x2="1393.08" y2="1079.9" stroke="#111" stroke-width="1.5" />
<line x1="1413.84" y1="1089.4" x2="1413.84" y2="1079.9" stroke="#111" stroke-width="1.5" />
<line x1="1434.6" y1="1089.4" x2="1434.6" y2="1076" stroke="#111" stroke-width="1.5" />
<line x1="1455.36" y1="1089.4" x2="1455.36" y2="1079.9" stroke="#111" stroke-width="1.5" />
<line x1="1476.12" y1="1089.4" x2="1476.12" y2="1079.9" stroke="#111" stroke-width="1.5" />
<rect x="1227" y="700.9" width="41.6" height="44.2" fill="#96003c" stroke="#111" stroke-width="1.4" />
<rect x="1227" y="773.3" width="25" height="44.7" fill="#f29090" stroke="#111" stroke-width="1.4" />
<rect x="1227" y="831.6" width="54.2" height="44.4" fill="#f29090" stroke="#111" stroke-width="1.4" />
<rect x="1227" y="889.7" width="220.6" height="44.7" fill="#f29090" stroke="#111" stroke-width="1.4" />
<rect x="1227" y="947.8" width="237.3" height="44.8" fill="#f29090" stroke="#111" stroke-width="1.4" />
<rect x="1227" y="1020.2" width="212.3" height="45" fill="#f9bfc0" stroke="#111" stroke-width="1.4" />
<rect x="1227" y="676.8" width="270.7" height="412.6" fill="none" stroke="#111" stroke-width="1.5" />
<text x="1278.18" y="717.5" font-size="21.63" fill="#961048" textLength="89.08" lengthAdjust="spacingAndGlyphs">This work</text>
<text x="1276.83" y="741.9" font-size="21.63" fill="#961048" textLength="70.07" lengthAdjust="spacingAndGlyphs">IM-PNR</text>
<text x="1260.33" y="803.9" font-size="21.63" fill="#961048" textLength="234.95" lengthAdjust="spacingAndGlyphs"><tspan dy="0">KNN-Bi, Sb, Zr, Fe (ref. </tspan><tspan dy="-9.08" font-size="11.9">36</tspan><tspan dy="9.08">)</tspan></text>
<text x="1286.58" y="846.9" font-size="21.63" fill="#961048" textLength="174.72" lengthAdjust="spacingAndGlyphs">KNN-Bi, Ba, Sb, Zr,</text>
<text x="1287.23" y="870.5" font-size="21.63" fill="#961048" textLength="89.45" lengthAdjust="spacingAndGlyphs"><tspan dy="0">Hf (ref. </tspan><tspan dy="-9.08" font-size="11.9">37</tspan><tspan dy="9.08">)</tspan></text>
<text x="1232.48" y="906.4" font-size="21.63" fill="#a30a28" textLength="206.42" lengthAdjust="spacingAndGlyphs">KNN A-site deficiency</text>
<text x="1233.23" y="929.2" font-size="21.63" fill="#961048" textLength="58.95" lengthAdjust="spacingAndGlyphs"><tspan dy="0">(ref. </tspan><tspan dy="-9.08" font-size="11.9">11</tspan><tspan dy="9.08">)</tspan></text>
<text x="1233.73" y="980.7" font-size="21.63" fill="#961048" textLength="136.45" lengthAdjust="spacingAndGlyphs"><tspan dy="0">KNN -Sr (ref. </tspan><tspan dy="-9.08" font-size="11.9">9</tspan><tspan dy="9.08">)</tspan></text>
<text x="1229.29" y="1037" font-size="21.63" fill="#961048" textLength="202.92" lengthAdjust="spacingAndGlyphs">BNT A-site deficiency</text>
<text x="1230.03" y="1060.7" font-size="21.63" fill="#961048" textLength="63.25" lengthAdjust="spacingAndGlyphs"><tspan dy="0">(ref. </tspan><tspan dy="-9.08" font-size="11.9">35</tspan><tspan dy="9.08">)</tspan></text>
<text x="1217.58" y="1127.7" font-size="25.32" textLength="18.31" lengthAdjust="spacingAndGlyphs">0</text>
<text x="1315.65" y="1127.7" font-size="25.32" textLength="30.1" lengthAdjust="spacingAndGlyphs">25</text>
<text x="1418.45" y="1127.7" font-size="25.32" textLength="31.92" lengthAdjust="spacingAndGlyphs">50</text>
<text x="1331.5" y="1178" font-size="30.07" textLength="18" lengthAdjust="spacingAndGlyphs" font-style="italic">Δ</text>
<text x="1352" y="1185.8" font-size="21.1" textLength="11" lengthAdjust="spacingAndGlyphs" font-style="italic">T</text>
<text x="1366.6" y="1178" font-size="30.07" textLength="43.94" lengthAdjust="spacingAndGlyphs">(%)</text>
<text x="1177.52" y="675.3" font-size="40.5" textLength="16.24" lengthAdjust="spacingAndGlyphs" font-weight="bold" stroke="#000" stroke-width="1.3" stroke-linejoin="round">f</text>
</g>
<g id="pg">
<line x1="1765.86" y1="1089.2" x2="1765.86" y2="1080.4" stroke="#111" stroke-width="1.5" />
<line x1="1786.62" y1="1089.2" x2="1786.62" y2="1080.4" stroke="#111" stroke-width="1.5" />
<line x1="1804.92" y1="1089.2" x2="1804.92" y2="1080.4" stroke="#111" stroke-width="1.5" />
<line x1="1821.3" y1="1089.2" x2="1821.3" y2="1076.6" stroke="#111" stroke-width="1.5" />
<line x1="1929.04" y1="1089.2" x2="1929.04" y2="1080.4" stroke="#111" stroke-width="1.5" />
<line x1="1992.06" y1="1089.2" x2="1992.06" y2="1080.4" stroke="#111" stroke-width="1.5" />
<line x1="2036.78" y1="1089.2" x2="2036.78" y2="1080.4" stroke="#111" stroke-width="1.5" />
<line x1="2071.46" y1="1089.2" x2="2071.46" y2="1080.4" stroke="#111" stroke-width="1.5" />
<line x1="2099.8" y1="1089.2" x2="2099.8" y2="1080.4" stroke="#111" stroke-width="1.5" />
<line x1="2123.76" y1="1089.2" x2="2123.76" y2="1080.4" stroke="#111" stroke-width="1.5" />
<line x1="2144.52" y1="1089.2" x2="2144.52" y2="1080.4" stroke="#111" stroke-width="1.5" />
<line x1="2162.82" y1="1089.2" x2="2162.82" y2="1080.4" stroke="#111" stroke-width="1.5" />
<line x1="2179.2" y1="1089.2" x2="2179.2" y2="1076.6" stroke="#111" stroke-width="1.5" />
<line x1="1741.2" y1="1081.7" x2="1749" y2="1081.7" stroke="#111" stroke-width="1.5" />
<line x1="1741.2" y1="1045.48" x2="1745.5" y2="1045.48" stroke="#111" stroke-width="1.5" />
<line x1="1741.2" y1="1009.25" x2="1749" y2="1009.25" stroke="#111" stroke-width="1.5" />
<line x1="1741.2" y1="973.03" x2="1745.5" y2="973.03" stroke="#111" stroke-width="1.5" />
<line x1="1741.2" y1="936.8" x2="1749" y2="936.8" stroke="#111" stroke-width="1.5" />
<line x1="1741.2" y1="900.58" x2="1745.5" y2="900.58" stroke="#111" stroke-width="1.5" />
<line x1="1741.2" y1="864.35" x2="1749" y2="864.35" stroke="#111" stroke-width="1.5" />
<line x1="1741.2" y1="828.12" x2="1745.5" y2="828.12" stroke="#111" stroke-width="1.5" />
<line x1="1741.2" y1="791.9" x2="1749" y2="791.9" stroke="#111" stroke-width="1.5" />
<line x1="1741.2" y1="755.68" x2="1745.5" y2="755.68" stroke="#111" stroke-width="1.5" />
<line x1="1741.2" y1="719.45" x2="1749" y2="719.45" stroke="#111" stroke-width="1.5" />
<line x1="2252.8" y1="1060.39" x2="2248.5" y2="1060.39" stroke="#111" stroke-width="1.5" />
<line x1="2252.8" y1="1032.09" x2="2245.2" y2="1032.09" stroke="#111" stroke-width="1.5" />
<line x1="2252.8" y1="1003.79" x2="2248.5" y2="1003.79" stroke="#111" stroke-width="1.5" />
<line x1="2252.8" y1="975.48" x2="2245.2" y2="975.48" stroke="#111" stroke-width="1.5" />
<line x1="2252.8" y1="947.18" x2="2248.5" y2="947.18" stroke="#111" stroke-width="1.5" />
<line x1="2252.8" y1="918.87" x2="2245.2" y2="918.87" stroke="#111" stroke-width="1.5" />
<line x1="2252.8" y1="890.57" x2="2248.5" y2="890.57" stroke="#111" stroke-width="1.5" />
<line x1="2252.8" y1="862.26" x2="2245.2" y2="862.26" stroke="#111" stroke-width="1.5" />
<line x1="2252.8" y1="833.96" x2="2248.5" y2="833.96" stroke="#111" stroke-width="1.5" />
<line x1="2252.8" y1="805.65" x2="2245.2" y2="805.65" stroke="#111" stroke-width="1.5" />
<line x1="2252.8" y1="777.35" x2="2248.5" y2="777.35" stroke="#111" stroke-width="1.5" />
<line x1="2252.8" y1="749.04" x2="2245.2" y2="749.04" stroke="#111" stroke-width="1.5" />
<line x1="2252.8" y1="720.74" x2="2248.5" y2="720.74" stroke="#111" stroke-width="1.5" />
<line x1="2252.8" y1="692.43" x2="2245.2" y2="692.43" stroke="#111" stroke-width="1.5" />
<line x1="1890.3" y1="806.8" x2="1899.2" y2="948.3" stroke="#eeeeee" stroke-width="0.6" />
<line x1="2016.6" y1="788.6" x2="2021.5" y2="914" stroke="#eeeeee" stroke-width="0.6" />
<line x1="1911.35" y1="803.77" x2="1919.58" y2="942.58" stroke="#eeeeee" stroke-width="0.6" />
<line x1="2032.55" y1="793.78" x2="2035.07" y2="922.8" stroke="#eeeeee" stroke-width="0.6" />
<line x1="1932.4" y1="800.73" x2="1939.97" y2="936.87" stroke="#eeeeee" stroke-width="0.6" />
<line x1="2048.5" y1="798.97" x2="2048.63" y2="931.6" stroke="#eeeeee" stroke-width="0.6" />
<line x1="1953.45" y1="797.7" x2="1960.35" y2="931.15" stroke="#eeeeee" stroke-width="0.6" />
<line x1="2064.45" y1="804.15" x2="2062.2" y2="940.4" stroke="#eeeeee" stroke-width="0.6" />
<line x1="1974.5" y1="794.67" x2="1980.73" y2="925.43" stroke="#eeeeee" stroke-width="0.6" />
<line x1="2080.4" y1="809.33" x2="2075.77" y2="949.2" stroke="#eeeeee" stroke-width="0.6" />
<line x1="1995.55" y1="791.63" x2="2001.12" y2="919.72" stroke="#eeeeee" stroke-width="0.6" />
<line x1="2096.35" y1="814.52" x2="2089.33" y2="958" stroke="#eeeeee" stroke-width="0.6" />
<line x1="2016.6" y1="788.6" x2="2021.5" y2="914" stroke="#eeeeee" stroke-width="0.6" />
<line x1="2112.3" y1="819.7" x2="2102.9" y2="966.8" stroke="#eeeeee" stroke-width="0.6" />
<line x1="1899.2" y1="948.3" x2="2021.5" y2="914" stroke="#eeeeee" stroke-width="0.6" />
<line x1="2021.5" y1="914" x2="2102.9" y2="966.8" stroke="#eeeeee" stroke-width="0.6" />
<line x1="1897.61" y1="923.03" x2="2020.62" y2="891.61" stroke="#eeeeee" stroke-width="0.6" />
<line x1="2020.62" y1="891.61" x2="2104.58" y2="940.53" stroke="#eeeeee" stroke-width="0.6" />
<line x1="1896.02" y1="897.76" x2="2019.75" y2="869.21" stroke="#eeeeee" stroke-width="0.6" />
<line x1="2019.75" y1="869.21" x2="2106.26" y2="914.26" stroke="#eeeeee" stroke-width="0.6" />
<line x1="1894.43" y1="872.5" x2="2018.88" y2="846.82" stroke="#eeeeee" stroke-width="0.6" />
<line x1="2018.88" y1="846.82" x2="2107.94" y2="888" stroke="#eeeeee" stroke-width="0.6" />
<line x1="1892.84" y1="847.23" x2="2018" y2="824.43" stroke="#eeeeee" stroke-width="0.6" />
<line x1="2018" y1="824.43" x2="2109.61" y2="861.73" stroke="#eeeeee" stroke-width="0.6" />
<line x1="1891.25" y1="821.96" x2="2017.12" y2="802.04" stroke="#eeeeee" stroke-width="0.6" />
<line x1="2017.12" y1="802.04" x2="2111.29" y2="835.46" stroke="#eeeeee" stroke-width="0.6" />
<line x1="1890.3" y1="806.8" x2="2016.6" y2="788.6" stroke="#eeeeee" stroke-width="0.6" />
<line x1="2016.6" y1="788.6" x2="2112.3" y2="819.7" stroke="#eeeeee" stroke-width="0.6" />
<line x1="1899.2" y1="948.3" x2="2021.5" y2="914" stroke="#f2f2f2" stroke-width="0.6" />
<line x1="1899.2" y1="948.3" x2="1974.2" y2="1010.5" stroke="#f2f2f2" stroke-width="0.6" />
<line x1="1911.7" y1="958.67" x2="2035.07" y2="922.8" stroke="#f2f2f2" stroke-width="0.6" />
<line x1="1919.58" y1="942.58" x2="1995.65" y2="1003.22" stroke="#f2f2f2" stroke-width="0.6" />
<line x1="1924.2" y1="969.03" x2="2048.63" y2="931.6" stroke="#f2f2f2" stroke-width="0.6" />
<line x1="1939.97" y1="936.87" x2="2017.1" y2="995.93" stroke="#f2f2f2" stroke-width="0.6" />
<line x1="1936.7" y1="979.4" x2="2062.2" y2="940.4" stroke="#f2f2f2" stroke-width="0.6" />
<line x1="1960.35" y1="931.15" x2="2038.55" y2="988.65" stroke="#f2f2f2" stroke-width="0.6" />
<line x1="1949.2" y1="989.77" x2="2075.77" y2="949.2" stroke="#f2f2f2" stroke-width="0.6" />
<line x1="1980.73" y1="925.43" x2="2060" y2="981.37" stroke="#f2f2f2" stroke-width="0.6" />
<line x1="1961.7" y1="1000.13" x2="2089.33" y2="958" stroke="#f2f2f2" stroke-width="0.6" />
<line x1="2001.12" y1="919.72" x2="2081.45" y2="974.08" stroke="#f2f2f2" stroke-width="0.6" />
<line x1="1974.2" y1="1010.5" x2="2102.9" y2="966.8" stroke="#f2f2f2" stroke-width="0.6" />
<line x1="2021.5" y1="914" x2="2102.9" y2="966.8" stroke="#f2f2f2" stroke-width="0.6" />
<line x1="2016.6" y1="788.6" x2="2021.5" y2="914" stroke="#dcdcdc" stroke-width="0.8" />
<polygon points="1963.6,978.4 1872.2,1035.2 1961.2,1048.4 2003.1,1018.5 2003.1,1021 2078.5,1032.1 2124.8,1003.1 2013,985.8" fill="#f9c6d1" />
<clipPath id="clipdl"><polygon points="1963.6,978.4 1872.2,1035.2 1961.2,1048.4 2003.1,1018.5 2003.1,960"/></clipPath>
<clipPath id="clipdr"><polygon points="2003.1,960 2003.1,1021 2078.5,1032.1 2124.8,1003.1 2124.8,960"/></clipPath>
<ellipse cx="2003.4" cy="1022.9" rx="62.7" ry="24.2" fill="#ededed" clip-path="url(#clipdl)"/>
<ellipse cx="2003.4" cy="1022.9" rx="62.7" ry="24.2" fill="#ececec" clip-path="url(#clipdr)"/>
<polygon points="1872.2,1035.2 1961.2,1048.4 1961.8,1053.1 1872.2,1040.8" fill="url(#gstrip)" />
<polygon points="1872.2,1040.8 1961.8,1053.1 1959.9,1066.1 1872.2,1052.5" fill="url(#gslate)" />
<polygon points="1961.2,1048.4 2003.1,1018.5 2003.1,1027.8 1974.1,1056.2 1959.9,1066.1" fill="#0d0d0f" />
<polygon points="2003.1,1021 2078.5,1032.1 2078.5,1034.5 2056.2,1036.5 2003.1,1027.2" fill="#f4b9c6" />
<polygon points="2003.1,1027 2056.2,1036 2078.5,1033.5 2078.5,1048.8 2056.2,1045.1 2056.2,1038.5 2003.1,1029" fill="#3e4c5e" />
<polygon points="2078.5,1032.1 2124.8,1003.1 2124.8,1019.2 2078.5,1048.8" fill="#0d0d0f" />
<polygon points="2011.34,818.09 2017.2,820.94 2027.25,825.13 2038.98,830.15 2042.33,838.53 2045.68,850.25 2049.03,863.65 2051.54,875.38 2053.22,887.1 2055.73,900.5 2058.24,913.9 2060.75,927.3 2064.94,942.38 2070.8,950.75 2084.2,957.45 2070.8,961.64 2057.4,966.67 2047.35,964.99 2037.3,969.18 2027.25,975.04 2017.2,981.74 2003.8,987.6 1988.73,993.47 1977,982.58 1965.28,972.53 1953.55,963.32 1946.01,959.13 1944.34,951.59 1942.66,942.38 1941.83,939.87 1926.75,940.03 1941.83,938.36 1951.88,936.52 1965.28,933.17 1973.65,928.98 1976.16,917.25 1979.51,903.85 1984.54,890.45 1988.73,878.73 1992.91,867 1997.1,855.28 2001.29,843.55 2006.31,830.15" fill="url(#gsurf)" />
<polygon points="2011.34,818.09 2017.2,820.94 2017.2,981.74 2003.8,987.6 1988.73,993.47 1977,982.58 1976.16,917.25 1984.54,890.45 1997.1,855.28 2006.31,830.15" fill="#ffffff" opacity="0.07"/>
<polyline points="2001.79,843.72 2010.5,842.38 2017.2,844.72 2030.6,843.72 2043.74,839.03" fill="none" stroke="#4a4a4a" stroke-width="0.55" stroke-linejoin="round" opacity="0.5"/>
<polyline points="1997.72,858.79 2010.5,857.45 2017.2,859.8 2030.6,858.79 2046.3,854.1" fill="none" stroke="#4a4a4a" stroke-width="0.55" stroke-linejoin="round" opacity="0.5"/>
<polyline points="1993.43,874.71 2010.5,873.37 2017.2,875.71 2030.6,874.71 2049,870.02" fill="none" stroke="#4a4a4a" stroke-width="0.55" stroke-linejoin="round" opacity="0.5"/>
<polyline points="1989.36,889.78 2010.5,888.44 2017.2,890.79 2030.6,889.78 2051.57,885.09" fill="none" stroke="#4a4a4a" stroke-width="0.55" stroke-linejoin="round" opacity="0.5"/>
<polyline points="1985.51,904.02 2010.5,902.68 2017.2,905.03 2030.6,904.02 2053.99,899.33" fill="none" stroke="#4a4a4a" stroke-width="0.55" stroke-linejoin="round" opacity="0.5"/>
<polyline points="1981.67,918.26 2010.5,916.92 2017.2,919.26 2030.6,918.26 2056.41,913.57" fill="none" stroke="#4a4a4a" stroke-width="0.55" stroke-linejoin="round" opacity="0.5"/>
<polyline points="1978.05,931.66 2010.5,930.32 2017.2,932.66 2030.6,931.66 2058.69,926.97" fill="none" stroke="#4a4a4a" stroke-width="0.55" stroke-linejoin="round" opacity="0.5"/>
<polyline points="1949.3,945.06 2010.5,943.72 2017.2,946.06 2030.6,945.06 2060.96,940.37" fill="none" stroke="#4a4a4a" stroke-width="0.55" stroke-linejoin="round" opacity="0.5"/>
<polyline points="1945.91,957.62 2010.5,956.28 2017.2,958.63 2030.6,957.62 2069.8,952.93" fill="none" stroke="#4a4a4a" stroke-width="0.55" stroke-linejoin="round" opacity="0.5"/>
<line x1="1890.3" y1="806.8" x2="1899.2" y2="948.3" stroke="#222" stroke-width="1" />
<line x1="1899.2" y1="948.3" x2="1974.2" y2="1010.5" stroke="#222" stroke-width="1.1" />
<line x1="1974.2" y1="1010.5" x2="2102.9" y2="966.8" stroke="#222" stroke-width="1.1" />
<line x1="1890.3" y1="806.8" x2="2016.6" y2="788.6" stroke="#dedede" stroke-width="0.8" />
<line x1="2016.6" y1="788.6" x2="2112.3" y2="819.7" stroke="#dedede" stroke-width="0.8" />
<line x1="2112.3" y1="819.7" x2="2102.9" y2="966.8" stroke="#dedede" stroke-width="0.8" />
<line x1="1903.58" y1="951.93" x2="1905.78" y2="950.73" stroke="#222" stroke-width="0.9" />
<line x1="1983.85" y1="1007.22" x2="1982.25" y2="1005.22" stroke="#222" stroke-width="0.9" />
<line x1="1899.2" y1="948.3" x2="1901.7" y2="947.9" stroke="#222" stroke-width="0.9" />
<line x1="1916.08" y1="962.29" x2="1918.28" y2="961.09" stroke="#222" stroke-width="0.9" />
<line x1="2005.3" y1="999.94" x2="2003.7" y2="997.94" stroke="#222" stroke-width="0.9" />
<line x1="1897.61" y1="923.03" x2="1900.11" y2="922.63" stroke="#222" stroke-width="0.9" />
<line x1="1928.58" y1="972.66" x2="1930.78" y2="971.46" stroke="#222" stroke-width="0.9" />
<line x1="2026.75" y1="992.66" x2="2025.15" y2="990.66" stroke="#222" stroke-width="0.9" />
<line x1="1896.02" y1="897.76" x2="1898.52" y2="897.36" stroke="#222" stroke-width="0.9" />
<line x1="1941.08" y1="983.03" x2="1943.28" y2="981.83" stroke="#222" stroke-width="0.9" />
<line x1="2048.2" y1="985.37" x2="2046.6" y2="983.37" stroke="#222" stroke-width="0.9" />
<line x1="1894.43" y1="872.5" x2="1896.93" y2="872.1" stroke="#222" stroke-width="0.9" />
<line x1="1953.58" y1="993.39" x2="1955.78" y2="992.19" stroke="#222" stroke-width="0.9" />
<line x1="2069.65" y1="978.09" x2="2068.05" y2="976.09" stroke="#222" stroke-width="0.9" />
<line x1="1892.84" y1="847.23" x2="1895.34" y2="846.83" stroke="#222" stroke-width="0.9" />
<line x1="1966.08" y1="1003.76" x2="1968.28" y2="1002.56" stroke="#222" stroke-width="0.9" />
<line x1="2091.1" y1="970.81" x2="2089.5" y2="968.81" stroke="#222" stroke-width="0.9" />
<line x1="1891.25" y1="821.96" x2="1893.75" y2="821.56" stroke="#222" stroke-width="0.9" />
<text stroke="#111" stroke-width="0.22" x="1873.7" y="828.96" font-size="9.6" text-anchor="middle" transform="rotate(-14 1873.7 825.6)" fill="#111" textLength="26.5" lengthAdjust="spacingAndGlyphs" font-style="italic">5,000</text>
<text stroke="#111" stroke-width="0.22" x="1875.9" y="854.36" font-size="9.6" text-anchor="middle" transform="rotate(-14 1875.9 851)" fill="#111" textLength="26.5" lengthAdjust="spacingAndGlyphs" font-style="italic">4,000</text>
<text stroke="#111" stroke-width="0.22" x="1877.7" y="881.16" font-size="9.6" text-anchor="middle" transform="rotate(-14 1877.7 877.8)" fill="#111" textLength="26.5" lengthAdjust="spacingAndGlyphs" font-style="italic">3,000</text>
<text stroke="#111" stroke-width="0.22" x="1879.1" y="906.66" font-size="9.6" text-anchor="middle" transform="rotate(-14 1879.1 903.3)" fill="#111" textLength="26.5" lengthAdjust="spacingAndGlyphs" font-style="italic">2,000</text>
<text stroke="#111" stroke-width="0.22" x="1880.4" y="932.16" font-size="9.6" text-anchor="middle" transform="rotate(-14 1880.4 928.8)" fill="#111" textLength="26.5" lengthAdjust="spacingAndGlyphs" font-style="italic">1,000</text>
<text stroke="#111" stroke-width="0.22" x="1891.1" y="952.26" font-size="9.6" text-anchor="middle" transform="rotate(-14 1891.1 948.9)" fill="#111" textLength="6" lengthAdjust="spacingAndGlyphs" font-style="italic">0</text>
<text stroke="#111" stroke-width="0.22" x="1892" y="961.75" font-size="9" text-anchor="middle" transform="rotate(-30 1892 958.6)" fill="#111" textLength="17.8" lengthAdjust="spacingAndGlyphs" font-style="italic">23.0</text>
<text stroke="#111" stroke-width="0.22" x="1905" y="971.65" font-size="9" text-anchor="middle" transform="rotate(-30 1905 968.5)" fill="#111" textLength="17.8" lengthAdjust="spacingAndGlyphs" font-style="italic">23.5</text>
<text stroke="#111" stroke-width="0.22" x="1916.7" y="982.15" font-size="9" text-anchor="middle" transform="rotate(-30 1916.7 979)" fill="#111" textLength="17.8" lengthAdjust="spacingAndGlyphs" font-style="italic">24.0</text>
<text stroke="#111" stroke-width="0.22" x="1930.9" y="995.15" font-size="9" text-anchor="middle" transform="rotate(-30 1930.9 992)" fill="#111" textLength="17.8" lengthAdjust="spacingAndGlyphs" font-style="italic">24.5</text>
<text stroke="#111" stroke-width="0.22" x="1945.7" y="1007.45" font-size="9" text-anchor="middle" transform="rotate(-30 1945.7 1004.3)" fill="#111" textLength="17.8" lengthAdjust="spacingAndGlyphs" font-style="italic">25.0</text>
<text stroke="#111" stroke-width="0.22" x="1960.5" y="1020.45" font-size="9" text-anchor="middle" transform="rotate(-30 1960.5 1017.3)" fill="#111" textLength="17.8" lengthAdjust="spacingAndGlyphs" font-style="italic">25.5</text>
<text stroke="#111" stroke-width="0.22" x="1984" y="1022.95" font-size="9" text-anchor="middle" transform="rotate(37 1984 1019.8)" fill="#111" textLength="17.8" lengthAdjust="spacingAndGlyphs" font-style="italic">29.0</text>
<text stroke="#111" stroke-width="0.22" x="2011.2" y="1014.25" font-size="9" text-anchor="middle" transform="rotate(37 2011.2 1011.1)" fill="#111" textLength="17.8" lengthAdjust="spacingAndGlyphs" font-style="italic">28.5</text>
<text stroke="#111" stroke-width="0.22" x="2036.5" y="1005.05" font-size="9" text-anchor="middle" transform="rotate(37 2036.5 1001.9)" fill="#111" textLength="17.8" lengthAdjust="spacingAndGlyphs" font-style="italic">28.0</text>
<text stroke="#111" stroke-width="0.22" x="2058.7" y="995.75" font-size="9" text-anchor="middle" transform="rotate(37 2058.7 992.6)" fill="#111" textLength="17.8" lengthAdjust="spacingAndGlyphs" font-style="italic">27.5</text>
<text stroke="#111" stroke-width="0.22" x="2081" y="986.45" font-size="9" text-anchor="middle" transform="rotate(37 2081 983.3)" fill="#111" textLength="17.8" lengthAdjust="spacingAndGlyphs" font-style="italic">27.0</text>
<text stroke="#111" stroke-width="0.22" x="2103.8" y="979.75" font-size="9" text-anchor="middle" transform="rotate(37 2103.8 976.6)" fill="#111" textLength="17.8" lengthAdjust="spacingAndGlyphs" font-style="italic">26.5</text>
<text stroke="#111" stroke-width="0.22" x="1890.9" y="1015.58" font-size="12.5" text-anchor="middle" transform="rotate(40 1890.9 1011.2)" fill="#111" textLength="62" lengthAdjust="spacingAndGlyphs"><tspan font-style="italic">x</tspan> position</text>
<text stroke="#111" stroke-width="0.22" x="1875.6" y="1021.08" font-size="12.5" text-anchor="middle" transform="rotate(40 1875.6 1016.7)" fill="#111" textLength="35" lengthAdjust="spacingAndGlyphs" font-style="italic">(mm)</text>
<text stroke="#111" stroke-width="0.22" x="2071" y="1013.67" font-size="12.5" text-anchor="middle" transform="rotate(-19 2071 1009.3)" fill="#111" textLength="83" lengthAdjust="spacingAndGlyphs"><tspan font-style="italic">y</tspan> position (mm)</text>
<text stroke="#111" stroke-width="0.22" x="1840.2" y="896.38" font-size="12.5" text-anchor="middle" transform="rotate(86 1840.2 892)" fill="#111" textLength="120" lengthAdjust="spacingAndGlyphs">Displacement (pm)</text>
<text stroke="#111" stroke-width="0.2" x="1901.5" y="833" font-size="10.5" transform="rotate(-4 1901.5 833)" textLength="33" lengthAdjust="spacingAndGlyphs">10<tspan dy="-3.5" font-size="7">4</tspan><tspan dy="3.5"> Hz</tspan></text>
<text x="2136.96" y="1024.2" font-size="17.93" textLength="43.7" lengthAdjust="spacingAndGlyphs">pMUT</text>
<polyline points="1821.3,781 1991.5,768.1 2179.2,757.9" fill="none" stroke="#24527b" stroke-width="3.2" stroke-linejoin="round" />
<circle cx="1821.3" cy="781" r="10.8" fill="#24527b"/>
<circle cx="1818.17" cy="777.98" r="5.25" fill="url(#hl)"/>
<circle cx="1991.5" cy="768.1" r="10.8" fill="#24527b"/>
<circle cx="1988.37" cy="765.08" r="5.25" fill="url(#hl)"/>
<circle cx="2179.2" cy="757.9" r="10.8" fill="#24527b"/>
<circle cx="2176.07" cy="754.88" r="5.25" fill="url(#hl)"/>
<polyline points="1821.3,771.5 1991.5,754.9 2179.2,741.9" fill="none" stroke="#c9314f" stroke-width="3.2" stroke-linejoin="round" />
<circle cx="1821.3" cy="771.5" r="10.8" fill="#c9314f"/>
<circle cx="1818.17" cy="768.48" r="5.25" fill="url(#hl)"/>
<circle cx="1991.5" cy="754.9" r="10.8" fill="#c9314f"/>
<circle cx="1988.37" cy="751.88" r="5.25" fill="url(#hl)"/>
<circle cx="2179.2" cy="741.9" r="10.8" fill="#c9314f"/>
<circle cx="2176.07" cy="738.88" r="5.25" fill="url(#hl)"/>
<rect x="1741.2" y="682.3" width="511.6" height="406.9" fill="none" stroke="#222" stroke-width="1.5" />
<text x="1775.58" y="741.9" font-size="22.68" textLength="107.04" lengthAdjust="spacingAndGlyphs"><tspan dy="0">860 pm V</tspan><tspan dy="-7.94" font-size="12.7">−1</tspan></text>
<text x="1942.78" y="730.6" font-size="22.68" textLength="106.74" lengthAdjust="spacingAndGlyphs"><tspan dy="0">880 pm V</tspan><tspan dy="-7.94" font-size="12.7">−1</tspan></text>
<text x="2127.38" y="719.7" font-size="22.68" textLength="103.34" lengthAdjust="spacingAndGlyphs"><tspan dy="0">910 pm V</tspan><tspan dy="-7.94" font-size="12.7">−1</tspan></text>
<text x="2034.2" y="816" font-size="21.63" textLength="12.5" lengthAdjust="spacingAndGlyphs" font-style="italic">Δ</text>
<text x="2047.5" y="820.3" font-size="15.3" textLength="8.5" lengthAdjust="spacingAndGlyphs" font-style="italic">f,</text>
<text x="2056.14" y="820.3" font-size="15.3" textLength="36.16" lengthAdjust="spacingAndGlyphs">pMUT</text>
<text x="2097.89" y="816" font-size="21.63" textLength="42.2" lengthAdjust="spacingAndGlyphs">= 7%</text>
<text x="1650.99" y="1088.9" font-size="25.85" textLength="67.01" lengthAdjust="spacingAndGlyphs">1,000</text>
<text x="1646.57" y="1016.45" font-size="25.85" textLength="71.5" lengthAdjust="spacingAndGlyphs">2,000</text>
<text x="1647.01" y="944" font-size="25.85" textLength="71.06" lengthAdjust="spacingAndGlyphs">3,000</text>
<text x="1647.44" y="871.55" font-size="25.85" textLength="70.62" lengthAdjust="spacingAndGlyphs">4,000</text>
<text x="1646.86" y="799.1" font-size="25.85" textLength="71.21" lengthAdjust="spacingAndGlyphs">5,000</text>
<text x="1646.57" y="726.65" font-size="25.85" textLength="71.5" lengthAdjust="spacingAndGlyphs">6,000</text>
<text x="2272.07" y="1096.9" font-size="25.85" textLength="48.96" lengthAdjust="spacingAndGlyphs">300</text>
<text x="2272.52" y="1040.12" font-size="25.85" textLength="48.5" lengthAdjust="spacingAndGlyphs">400</text>
<text x="2271.92" y="983.35" font-size="25.85" textLength="49.11" lengthAdjust="spacingAndGlyphs">500</text>
<text x="2271.62" y="926.57" font-size="25.85" textLength="49.42" lengthAdjust="spacingAndGlyphs">600</text>
<text x="2271.62" y="869.79" font-size="25.85" textLength="49.42" lengthAdjust="spacingAndGlyphs">700</text>
<text x="2271.92" y="813.02" font-size="25.85" textLength="49.11" lengthAdjust="spacingAndGlyphs">800</text>
<text x="2271.77" y="756.24" font-size="25.85" textLength="49.27" lengthAdjust="spacingAndGlyphs">900</text>
<text x="2271.03" y="698.23" font-size="25.85" textLength="69.21" lengthAdjust="spacingAndGlyphs">1,000</text>
<text x="1802.5" y="1125.2" font-size="25.85" textLength="24.5" lengthAdjust="spacingAndGlyphs">10</text>
<text x="1828.8" y="1113.2" font-size="16.88" textLength="9" lengthAdjust="spacingAndGlyphs">3</text>
<text x="2160.4" y="1125.2" font-size="25.85" textLength="24.5" lengthAdjust="spacingAndGlyphs">10</text>
<text x="2186.7" y="1113.2" font-size="16.88" textLength="9" lengthAdjust="spacingAndGlyphs">4</text>
<text x="1892.97" y="1179.2" font-size="30.07" textLength="209.07" lengthAdjust="spacingAndGlyphs">Frequency (Hz)</text>
<text x="1613.2" y="1016.39" font-size="30.07" fill="#1f4e79" textLength="260.69" lengthAdjust="spacingAndGlyphs" transform="rotate(-90 1613.2 1016.39)">Displacement (pm)</text>
<text x="2374" y="758.8" font-size="30.07" fill="#c9314f" textLength="256.3" lengthAdjust="spacingAndGlyphs" transform="rotate(90 2374 758.8)"><tspan dy="0">Sensitivity (pm V</tspan><tspan dy="-16.54" font-size="15.64">−1</tspan><tspan dy="16.54">)</tspan></text>
<text x="1586.26" y="676.5" font-size="40.5" textLength="30.36" lengthAdjust="spacingAndGlyphs" font-weight="bold" stroke="#000" stroke-width="1.3" stroke-linejoin="round">g</text>
</g>
</svg>
</body></html>
